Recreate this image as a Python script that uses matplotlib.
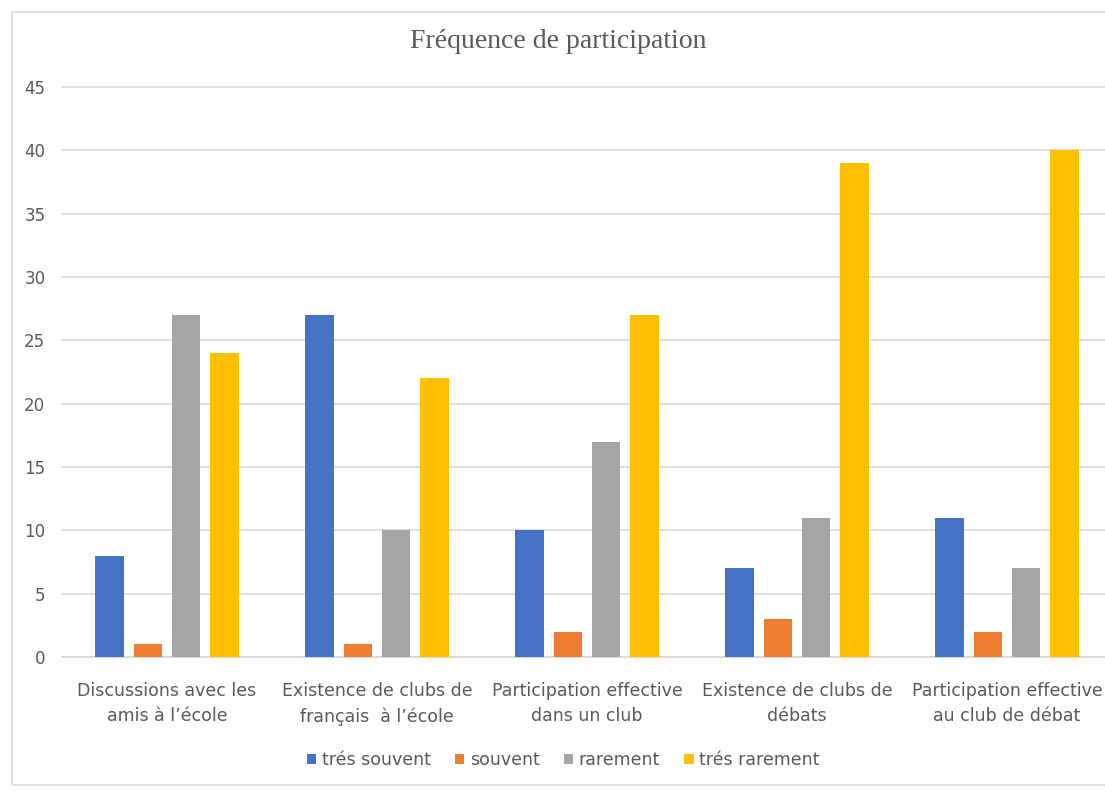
import numpy as np
import matplotlib.pyplot as plt
from matplotlib.patches import Rectangle

categories = ["Discussions avec les\namis à l’école",
              "Existence de clubs de\nfrançais  à l’école",
              "Participation effective\ndans un club",
              "Existence de clubs de\ndébats",
              "Participation effective\nau club de débat"]
series_names = ["trés souvent", "souvent", "rarement", "trés rarement"]
tres_souvent = [8, 27, 10, 7, 11]
souvent = [1, 1, 2, 3, 2]
rarement = [27, 10, 17, 11, 7]
tres_rarement = [24, 22, 27, 39, 40]
colors = ["#4472C4", "#ED7D31", "#A5A5A5", "#FFC000"]

txt = "#595959"
sans = ["Liberation Sans Narrow", "DejaVu Sans"]

fig = plt.figure(figsize=(11.05, 7.91), dpi=100)
W, H = 1105, 791
# axes: x from 62 px to 1112 px, y from 657 (0) to 87 (45)
ax = fig.add_axes([62 / W, 1 - 657 / H, 1050 / W, 570 / H])

x = np.arange(len(categories))
pitch = 0.181
width = 0.138
all_series = [tres_souvent, souvent, rarement, tres_rarement]
for i, (vals, name, c) in enumerate(zip(all_series, series_names, colors)):
    ax.bar(x + (i - 1.5) * pitch, vals, width, color=c, label=name, zorder=3)

ax.set_xlim(-0.5, len(categories) - 0.5)
ax.set_ylim(0, 45)
ax.set_yticks(np.arange(0, 46, 5))
ax.yaxis.grid(True, color="#D9D9D9", linewidth=1.2, zorder=0)
for gl in ax.yaxis.get_gridlines():
    gl.set_clip_on(False)
ax.set_axisbelow(True)
for s in ["top", "right", "left"]:
    ax.spines[s].set_visible(False)
ax.spines["bottom"].set_color("#D9D9D9")
ax.spines["bottom"].set_linewidth(1.2)
ax.tick_params(axis="both", length=0, colors=txt)
ax.tick_params(axis="y", pad=12)
ax.tick_params(axis="x", pad=18)
ax.set_xticks(x)
ax.set_xticklabels(categories, fontsize=12.5, family=sans, color=txt, linespacing=1.5)
for lab in ax.get_yticklabels():
    lab.set_family(sans)
    lab.set_fontsize(12)

fig.text(558 / W, 1 - 42 / H, "Fréquence de participation", ha="center", va="center",
         fontsize=20, family=["Liberation Serif", "DejaVu Serif"], color=txt)

leg = fig.legend(loc="center", bbox_to_anchor=(563 / W, 1 - 760 / H), ncol=4, frameon=False,
                 handlelength=0.55, handleheight=0.55, handletextpad=0.3, columnspacing=1.4,
                 prop={"family": sans, "size": 12.5})
for t in leg.get_texts():
    t.set_color(txt)

fig.patches.append(Rectangle((12 / W, 1 - 785 / H), 1.0, 773 / H, transform=fig.transFigure,
                             fill=False, edgecolor="#D9D9D9", linewidth=1.2))

fig.savefig("out.png", dpi=100)
